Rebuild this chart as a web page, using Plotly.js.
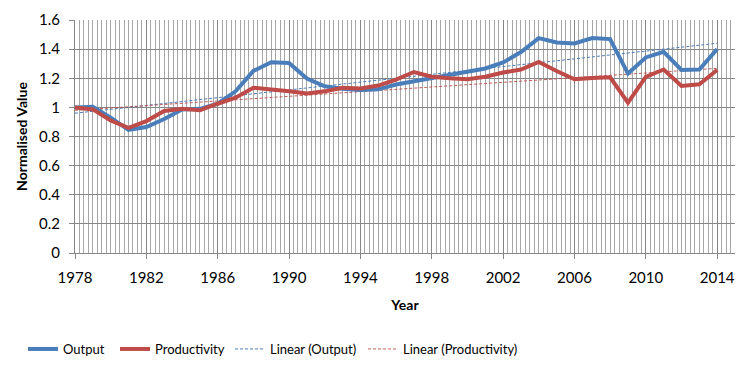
<!DOCTYPE html>
<html>
<head>
<meta charset="utf-8">
<script src="https://cdn.plot.ly/plotly-3.0.1.min.js"></script>
<style>html,body{margin:0;padding:0;background:#fff;}#chart{width:752px;height:368px;}</style>
</head>
<body>
<div id="chart"></div>
<script>
const years = [1978,1979,1980,1981,1982,1983,1984,1985,1986,1987,1988,1989,1990,1991,1992,1993,1994,1995,1996,1997,1998,1999,2000,2001,2002,2003,2004,2005,2006,2007,2008,2009,2010,2011,2012,2013,2014];
const output = [1.00,1.005,0.93,0.845,0.865,0.92,0.985,0.99,1.025,1.11,1.25,1.31,1.305,1.198,1.145,1.128,1.12,1.124,1.157,1.18,1.198,1.227,1.25,1.267,1.308,1.38,1.476,1.446,1.439,1.476,1.469,1.232,1.343,1.381,1.257,1.26,1.40];
const productivity = [1.00,0.986,0.91,0.86,0.906,0.975,0.991,0.98,1.025,1.066,1.135,1.125,1.11,1.095,1.11,1.135,1.13,1.15,1.19,1.243,1.21,1.2,1.193,1.21,1.239,1.26,1.312,1.25,1.193,1.202,1.207,1.032,1.21,1.26,1.147,1.159,1.257];
const trendYears = [1978, 2014];
const trendOutput = [0.96, 1.44];
const trendProductivity = [0.98, 1.268];
const yTickVals = [0,0.2,0.4,0.6,0.8,1,1.2,1.4,1.6];
const yTickText = ['0','0.2','0.4','0.6','0.8','1','1.2','1.4','1.6'];
const xTickVals = [1978,1982,1986,1990,1994,1998,2002,2006,2010,2014];
const xTickText = ['1978','1982','1986','1990','1994','1998','2002','2006','2010','2014'];

const BLUE = '#4A7EBB', RED = '#BE4B48';
const FONT = 'Lato, "Open Sans", sans-serif';

const traces = [
  {x: years, y: output, name: 'Output', type: 'scatter', mode: 'lines',
   line: {color: BLUE, width: 4}, legend: 'legend'},
  {x: years, y: productivity, name: 'Productivity', type: 'scatter', mode: 'lines',
   line: {color: RED, width: 4}, legend: 'legend2'},
  {x: trendYears, y: trendOutput, name: 'Linear (Output)', type: 'scatter', mode: 'lines',
   line: {color: BLUE, width: 1, dash: '3px,2px'}, legend: 'legend3'},
  {x: trendYears, y: trendProductivity, name: 'Linear (Productivity)', type: 'scatter', mode: 'lines',
   line: {color: RED, width: 1, dash: '3px,2px'}, opacity: 0.9, legend: 'legend4'}
];
// draw main lines above trend lines
const ordered = [traces[2], traces[3], traces[0], traces[1]];

function leg(px) {
  return {xref: 'container', yref: 'container', x: px/752, y: 1 - 349/368,
    xanchor: 'left', yanchor: 'middle', orientation: 'h', bgcolor: 'rgba(0,0,0,0)',
    font: {family: FONT, size: 13, color: '#000'}, itemwidth: 30, tracegroupgap: 0};
}

const layout = {
  width: 752, height: 368,
  margin: {l: 75, r: 17, t: 20, b: 115},
  paper_bgcolor: '#fff', plot_bgcolor: '#fff',
  font: {family: FONT, size: 14, color: '#000'},
  showlegend: true,
  legend: leg(23), legend2: leg(115), legend3: leg(230), legend4: leg(363),
  xaxis: {
    range: [1978, 2015], tickmode: 'array', tickvals: xTickVals, ticktext: xTickText,
    showgrid: true, gridcolor: '#868686', gridwidth: 1,
    ticks: 'outside', ticklen: 5, tickcolor: '#868686',
    showline: true, linecolor: '#868686', linewidth: 1, zeroline: false,
    tickfont: {family: FONT, size: 15, color: '#000'},
    ticklabelstandoff: 6,
    minor: {dtick: 0.25, tick0: 1978, showgrid: true, gridcolor: '#A6A6A6', gridwidth: 1, ticks: ''},
    title: {text: '<b>Year</b>', font: {family: FONT, size: 14, color: '#000'}, standoff: 15}
  },
  yaxis: {
    range: [0, 1.6], tickmode: 'array', tickvals: yTickVals, ticktext: yTickText,
    showgrid: true, gridcolor: '#868686', gridwidth: 1,
    ticks: 'outside', ticklen: 5, tickcolor: '#868686',
    showline: true, linecolor: '#868686', linewidth: 1, zeroline: false,
    tickfont: {family: FONT, size: 15, color: '#000'},
    ticklabelstandoff: 6,
    title: {text: '<b>Normalised Value</b>', font: {family: FONT, size: 14, color: '#000'}, standoff: 8}
  }
};

Plotly.newPlot('chart', ordered, layout, {staticPlot: true, displayModeBar: false});
</script>
</body>
</html>
